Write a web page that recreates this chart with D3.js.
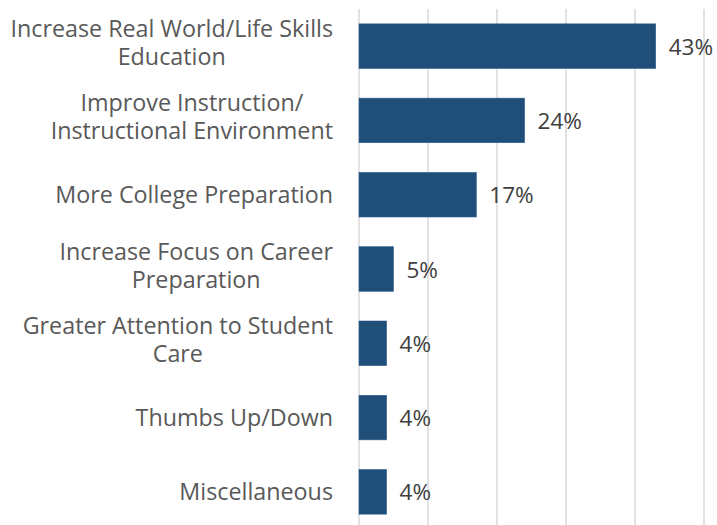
<!DOCTYPE html>
<html>
<head>
<meta charset="utf-8">
<script src="https://cdn.jsdelivr.net/npm/d3@7"></script>
<style>
  html, body { margin: 0; padding: 0; background: #fff; }
  svg { display: block; }
</style>
</head>
<body>
<svg id="chart" width="717" height="525"></svg>
<script>
// data
const categories = [
  ['Increase Real World/Life Skills', 'Education'],
  ['Improve Instruction/', 'Instructional Environment'],
  ['More College Preparation'],
  ['Increase Focus on Career', 'Preparation'],
  ['Greater Attention to Student', 'Care'],
  ['Thumbs Up/Down'],
  ['Miscellaneous']
]
const values = [43, 24, 17, 5, 4, 4, 4]
const gridTicks = [0, 10, 20, 30, 40, 50]

const X0 = 359
const X1 = 704
const LABEL_RIGHT = 333
const LINE_H = 28
const FONT = '"Open Sans", Lato, sans-serif'

const svg = d3.select('#chart')

const x = d3.scaleLinear().domain([0, 50]).range([X0, X1])
const y = d3.scaleBand()
  .domain(d3.range(values.length))
  .range([9, 529])
  .paddingInner(0.4)
  .paddingOuter(0.2)

// gridlines
svg.append('g')
  .selectAll('line')
  .data(gridTicks)
  .join('line')
  .attr('x1', d => x(d))
  .attr('x2', d => x(d))
  .attr('y1', 9)
  .attr('y2', 529)
  .attr('stroke', '#d9d9d9')
  .attr('stroke-width', 1.5)

// bars
svg.append('g')
  .selectAll('rect')
  .data(values)
  .join('rect')
  .attr('x', x(0))
  .attr('y', (d, i) => y(i))
  .attr('width', d => x(d) - x(0))
  .attr('height', y.bandwidth())
  .attr('fill', '#1f4e79')
  .attr('stroke', '#2f5f8f')
  .attr('stroke-width', 0.6)

// value labels
svg.append('g')
  .selectAll('text')
  .data(values)
  .join('text')
  .attr('x', d => x(d) + 13)
  .attr('y', (d, i) => y(i) + y.bandwidth() / 2 + 8.5)
  .style('font-family', FONT)
  .style('font-size', '22.5px')
  .style('fill', '#404040')
  .text(d => d + '%')

// category labels, wrapped lines centred on the widest one
const labels = svg.append('g')
  .selectAll('text')
  .data(categories)
  .join('text')
  .attr('text-anchor', 'middle')
  .style('font-family', FONT)
  .style('font-size', '23.3px')
  .style('fill', '#595959')

labels.each(function (lines, i) {
  const cy = y(i) + y.bandwidth() / 2
  const first = lines.length > 1 ? cy - 9 : cy + 8
  const t = d3.select(this)
  t.selectAll('tspan')
    .data(lines)
    .join('tspan')
    .attr('y', (d, k) => first + k * LINE_H)
    .text(d => d)
  const widest = d3.max(t.selectAll('tspan').nodes(), s => s.getComputedTextLength())
  t.selectAll('tspan').attr('x', LABEL_RIGHT - widest / 2)
})
</script>
</body>
</html>
